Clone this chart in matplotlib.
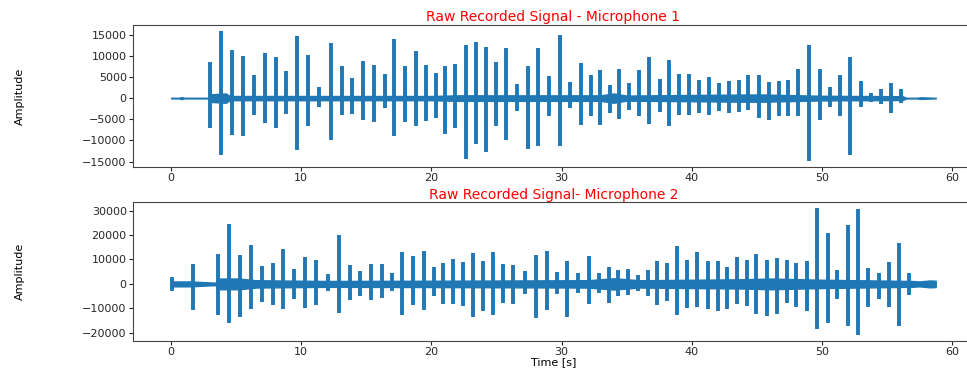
import numpy as np
import matplotlib
matplotlib.use("Agg")
import matplotlib.pyplot as plt

# spike times [s] and peak amplitudes read from the recording, microphone 1
mic1_t = [3.0, 3.84, 4.66, 5.53, 6.4, 7.21, 8.03, 8.83, 9.7, 10.49, 11.38, 12.28,
          13.1, 13.89, 14.76, 15.6, 16.42, 17.14, 17.96, 18.78, 19.6, 20.36, 21.08,
          21.85, 22.64, 23.46, 24.17, 24.94, 25.76, 26.6, 27.42, 28.19, 29.03, 29.85,
          30.67, 31.47, 32.23, 32.97, 33.69, 34.41, 35.17, 35.94, 36.71, 37.53, 38.24,
          39.01, 39.78, 40.6, 41.35, 42.13, 42.9, 43.61, 44.36, 45.15, 45.92, 46.68,
          47.41, 48.2, 49.04, 49.86, 50.63, 51.4, 52.19, 53.0, 53.77, 54.54, 55.36, 56.08]
mic1_pos = [8500, 15750, 11400, 9900, 5400, 10600, 9700, 6400, 14750, 10200, 2650, 12950,
            7550, 4850, 8750, 7900, 5800, 14000, 7500, 11100, 7900, 5900, 7550, 7950,
            12650, 13200, 12150, 8500, 11850, 3450, 7500, 11800, 5200, 15000, 3800, 8350,
            5400, 6700, 3200, 6950, 3650, 6700, 9650, 4450, 9100, 5800, 5600, 4350, 5000,
            3650, 4000, 4350, 5400, 5400, 3800, 4050, 4350, 6950, 12650, 6950, 2650, 5400,
            9650, 4000, 1300, 2050, 3650, 2250]
mic1_neg = [-7100, -13500, -8650, -9050, -4000, -5900, -7100, -3750, -12200, -6700, -2200,
            -10000, -4000, -3750, -5150, -5550, -2400, -8900, -5550, -6550, -5300, -4750,
            -8400, -6950, -14350, -10750, -12700, -6550, -9850, -3050, -12000, -11400,
            -4150, -11400, -2400, -6300, -4150, -6300, -3600, -5000, -2800, -4200, -6100,
            -3200, -6550, -4000, -4000, -3600, -4000, -3050, -3600, -3350, -2800, -4600,
            -5150, -4150, -4150, -4200, -14750, -5150, -2200, -4150, -13350, -2200, -850,
            -1400, -3600, -1100]
# background noise envelope between spikes
mic1_env_t = [0, 0.6, 0.8, 1.0, 2.9, 3.0, 4.2, 4.5, 20, 22, 33, 34, 35, 44, 45.5, 50,
              56.2, 56.5, 57.3, 57.6, 58.76]
mic1_env = [80, 80, 250, 80, 80, 900, 1100, 500, 500, 650, 650, 1100, 600, 850,
            850, 550, 450, 80, 80, 200, 60]

# microphone 2
mic2_t = [0.05, 1.66, 3.63, 4.48, 5.3, 6.12, 6.96, 7.8, 8.62, 9.46, 10.28, 11.13, 12.02,
          12.89, 13.74, 14.5, 15.35, 16.17, 16.98, 17.75, 18.6, 19.42, 20.18, 20.9, 21.67,
          22.43, 23.2, 23.97, 24.74, 25.5, 26.27, 27.22, 28.06, 28.88, 29.65, 30.44, 31.26,
          32.1, 32.87, 33.62, 34.33, 35.1, 35.86, 36.63, 37.35, 38.12, 38.86, 39.62, 40.42,
          41.24, 42.0, 42.72, 43.49, 44.26, 44.95, 45.8, 46.56, 47.3, 48.02, 48.84, 49.63,
          50.45, 51.21, 51.98, 52.8, 53.59, 54.41, 55.18, 55.95, 56.72]
mic2_pos = [2900, 8250, 12250, 24500, 12000, 16000, 7200, 8650, 14250, 6250, 10950, 9850,
            4250, 19850, 7600, 5200, 8000, 8000, 4650, 12950, 11300, 13600, 6950, 8550,
            10250, 8950, 12550, 9350, 13200, 8250, 7850, 5350, 11850, 13350, 4950, 9200,
            4550, 11600, 4650, 6950, 5600, 6250, 3600, 5600, 9200, 8550, 15350, 9850, 12950,
            9200, 9200, 6950, 10950, 9850, 12250, 9600, 10500, 9850, 8650, 9200, 30950,
            20650, 5850, 24000, 30650, 6550, 4550, 8950, 16950, 4650]
mic2_neg = [-3100, -10800, -12800, -16000, -13350, -10400, -7450, -8800, -10400, -6000,
            -9750, -8700, -2800, -12000, -6400, -4800, -6400, -5750, -3050, -12800, -8800,
            -10800, -5050, -8400, -8100, -9050, -13750, -11050, -12800, -7750, -8100, -4100,
            -14000, -10800, -4150, -13750, -3750, -8100, -3750, -7750, -5050, -4400, -3050,
            -5050, -8800, -7050, -12800, -9750, -9350, -10400, -11050, -10150, -8400, -9050,
            -12400, -13050, -12400, -8000, -9450, -11050, -18650, -16150, -6000, -17350,
            -20800, -9350, -6000, -9350, -17050, -4400]
mic2_env_t = [0, 0.15, 1.5, 3.4, 3.6, 5.2, 6.5, 12, 20, 32, 34, 36, 44, 46, 50, 56.9,
              57.5, 58.3, 58.76]
mic2_env = [1300, 1000, 1000, 500, 2200, 2200, 1500, 1200, 1300, 1500, 2300, 1500, 1900,
            2200, 1700, 1200, 1000, 1400, 1300]

mic1_yticks = [-15000, -10000, -5000, 0, 5000, 10000, 15000]
mic2_yticks = [-20000, -10000, 0, 10000, 20000, 30000]
titles = ["Raw Recorded Signal - Microphone 1", "Raw Recorded Signal- Microphone 2"]
BLUE = "#1f77b4"

fig = plt.figure(figsize=(9.67, 3.74), dpi=100)
ax1 = fig.add_axes([0.1375, 0.5535, 0.8697, 0.3797])
ax2 = fig.add_axes([0.1375, 0.0882, 0.8697, 0.3717])

channels = [(mic1_t, mic1_pos, mic1_neg, mic1_env_t, mic1_env, mic1_yticks),
            (mic2_t, mic2_pos, mic2_neg, mic2_env_t, mic2_env, mic2_yticks)]

for ax, (t, pos, neg, et, env, yt), title, pad in zip((ax1, ax2), channels, titles, (3, 0)):
    env = np.asarray(env)
    ax.fill_between(et, -env, env, color=BLUE, lw=1.0)
    ax.vlines(t, neg, pos, color=BLUE, lw=2.8)
    ax.set_yticks(yt)
    ax.set_title(title, color="red", fontsize=10, pad=pad)
    ax.set_ylabel("Amplitude", fontsize=8)
    ax.yaxis.set_label_coords(-0.128, 0.5)
    ax.tick_params(labelsize=8, colors="#262626", pad=1.5, length=3)
    for s in ax.spines.values():
        s.set_color("#444444")

ax2.set_xlabel("Time [s]", fontsize=8, labelpad=0)

fig.savefig("out.png", dpi=100)
